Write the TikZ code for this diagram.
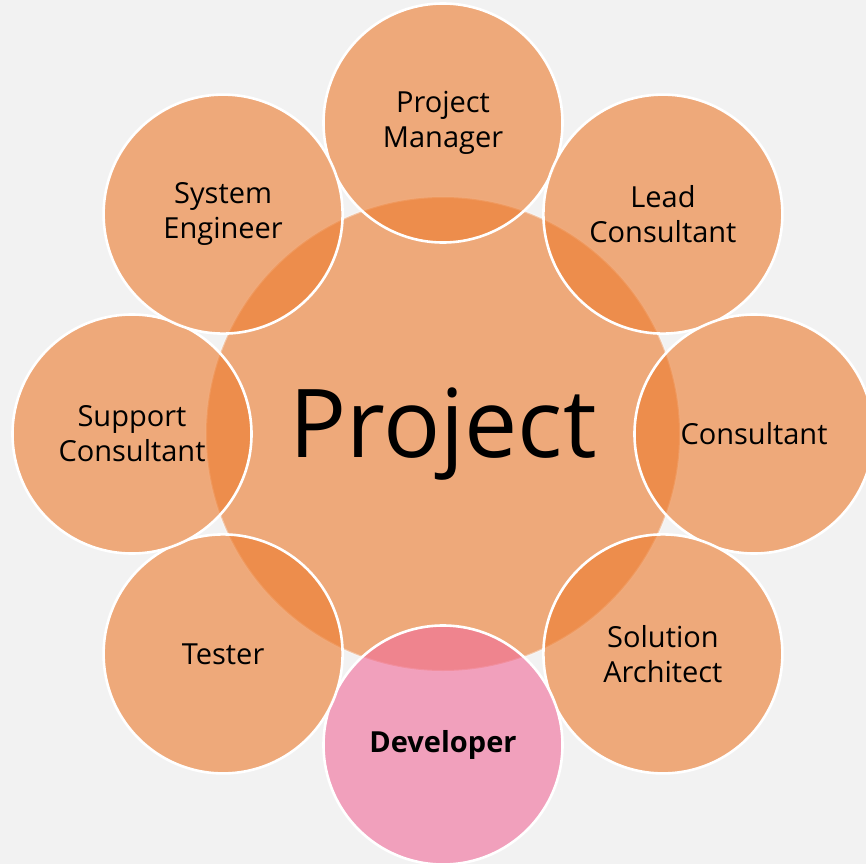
\documentclass[tikz,border=0pt]{standalone}
\usepackage{fontspec}
\setmainfont{Open Sans}
\usetikzlibrary{positioning,calc}

\definecolor{bggray}{HTML}{F2F2F2}
\definecolor{roleorange}{HTML}{ED7D31}
\definecolor{rolepink}{RGB}{241,110,155}

\tikzset{
  role/.style={circle,minimum size=119.5pt,inner sep=0pt,draw=white,line width=1.3pt,
    fill=roleorange,fill opacity=0.62,text opacity=1,align=center,
    font=\fontsize{14.5}{17.5}\selectfont},
  hub/.style={circle,minimum size=237pt,inner sep=0pt,draw=white,draw opacity=0.35,
    line width=1pt,fill=roleorange,fill opacity=0.62,text opacity=1,
    font=\fontsize{47.5}{50}\selectfont}
}

\begin{document}
\begin{tikzpicture}[x=0.5pt,y=0.5pt]
        % Background
        \fill[bggray] (0,0) rectangle (866,864);
        \useasboundingbox (0,0) rectangle (866,864);

        % Centre
        \node[hub] (project) at (443,430) {\raisebox{-3pt}{Project}};

        % Roles
        \node[role] (pm) at ($(project)+(90:311)$) {Project\\Manager};
        \node[role] (lead) at ($(project)+(45:311)$) {Lead\\Consultant};
        \node[role] (cons) at ($(project)+(0:311)$) {Consultant};
        \node[role] (arch) at ($(project)+(-45:311)$) {Solution\\Architect};
        \node[role,fill=rolepink,font=\fontsize{14.5}{17.5}\selectfont\bfseries] (dev) at ($(project)+(-90:311)$) {\raisebox{-1.5pt}{Developer}};
        \node[role] (test) at ($(project)+(-135:311)$) {Tester};
        \node[role] (supp) at ($(project)+(180:311)$) {Support\\Consultant};
        \node[role] (syseng) at ($(project)+(135:311)$) {System\\Engineer};
\end{tikzpicture}
\end{document}
